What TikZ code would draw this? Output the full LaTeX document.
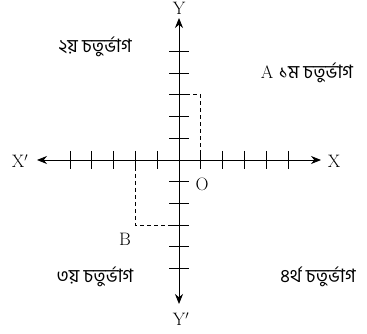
\documentclass[tikz,border=0pt]{standalone}
\usepackage{fontspec}
\newfontfamily\bn[Script=Bengali]{Hind Siliguri}
\usetikzlibrary{arrows.meta,calc}
\begin{document}
\begin{tikzpicture}[x=1pt,y=-1pt,
  font=\fontsize{18}{20}\selectfont,
  axisline/.style={line width=0.9pt, {Stealth[length=10pt,width=8pt]}-{Stealth[length=10pt,width=8pt]}},
  tickmark/.style={line width=0.9pt},
  guide/.style={line width=0.8pt, dash pattern=on 4pt off 3pt},
  lbl/.style={inner sep=0pt},
  bnlbl/.style={inner sep=0pt, font=\fontsize{18.5}{20}\bn}]
\useasboundingbox (0,0) rectangle (367,334);
\coordinate (O) at (179,160);
\coordinate (xl) at (37,160);
\coordinate (xr) at (321,160);
\coordinate (yt) at (179,18);
\coordinate (yb) at (179,304);
\draw[axisline] (xl) -- (xr);
\draw[axisline] (yt) -- (yb);
\foreach \i in {-5,...,5} {
  \draw[tickmark] ($(O)+(21.8*\i,-9)$) -- ($(O)+(21.8*\i,9)$);
  \draw[tickmark] ($(O)+(-10,21.7*\i)$) -- ($(O)+(10,21.7*\i)$);
}
\coordinate (ay) at (179,94.9);
\coordinate (A) at (200.8,94.9);
\coordinate (ax) at (200.8,160);
\draw[guide] (ay) -- (A) -- (ax);
\coordinate (bx) at (135.4,160);
\coordinate (B) at (135.4,225.1);
\coordinate (by) at (179,225.1);
\draw[guide] (bx) -- (B) -- (by);
\node[lbl] (ylab) at (179,8) {Y};
\node[lbl] (yplab) at (181,319) {Y$'$};
\node[lbl] (xplab) at (20,161) {X$'$};
\node[lbl] (xlab) at (334,161) {X};
\node[lbl] (olab) at (202,184) {O};
\node[lbl] (blab) at (125,239) {B};
\node[lbl] (q1) at (307,73) {A {\fontsize{18.5}{20}\bn ১ম চতুর্ভাগ}};
\node[bnlbl] (q2) at (95,47) {২য় চতুর্ভাগ};
\node[bnlbl] (q3) at (95,277) {৩য় চতুর্ভাগ};
\node[bnlbl] (q4) at (318,277) {৪র্থ চতুর্ভাগ};
\end{tikzpicture}
\end{document}
